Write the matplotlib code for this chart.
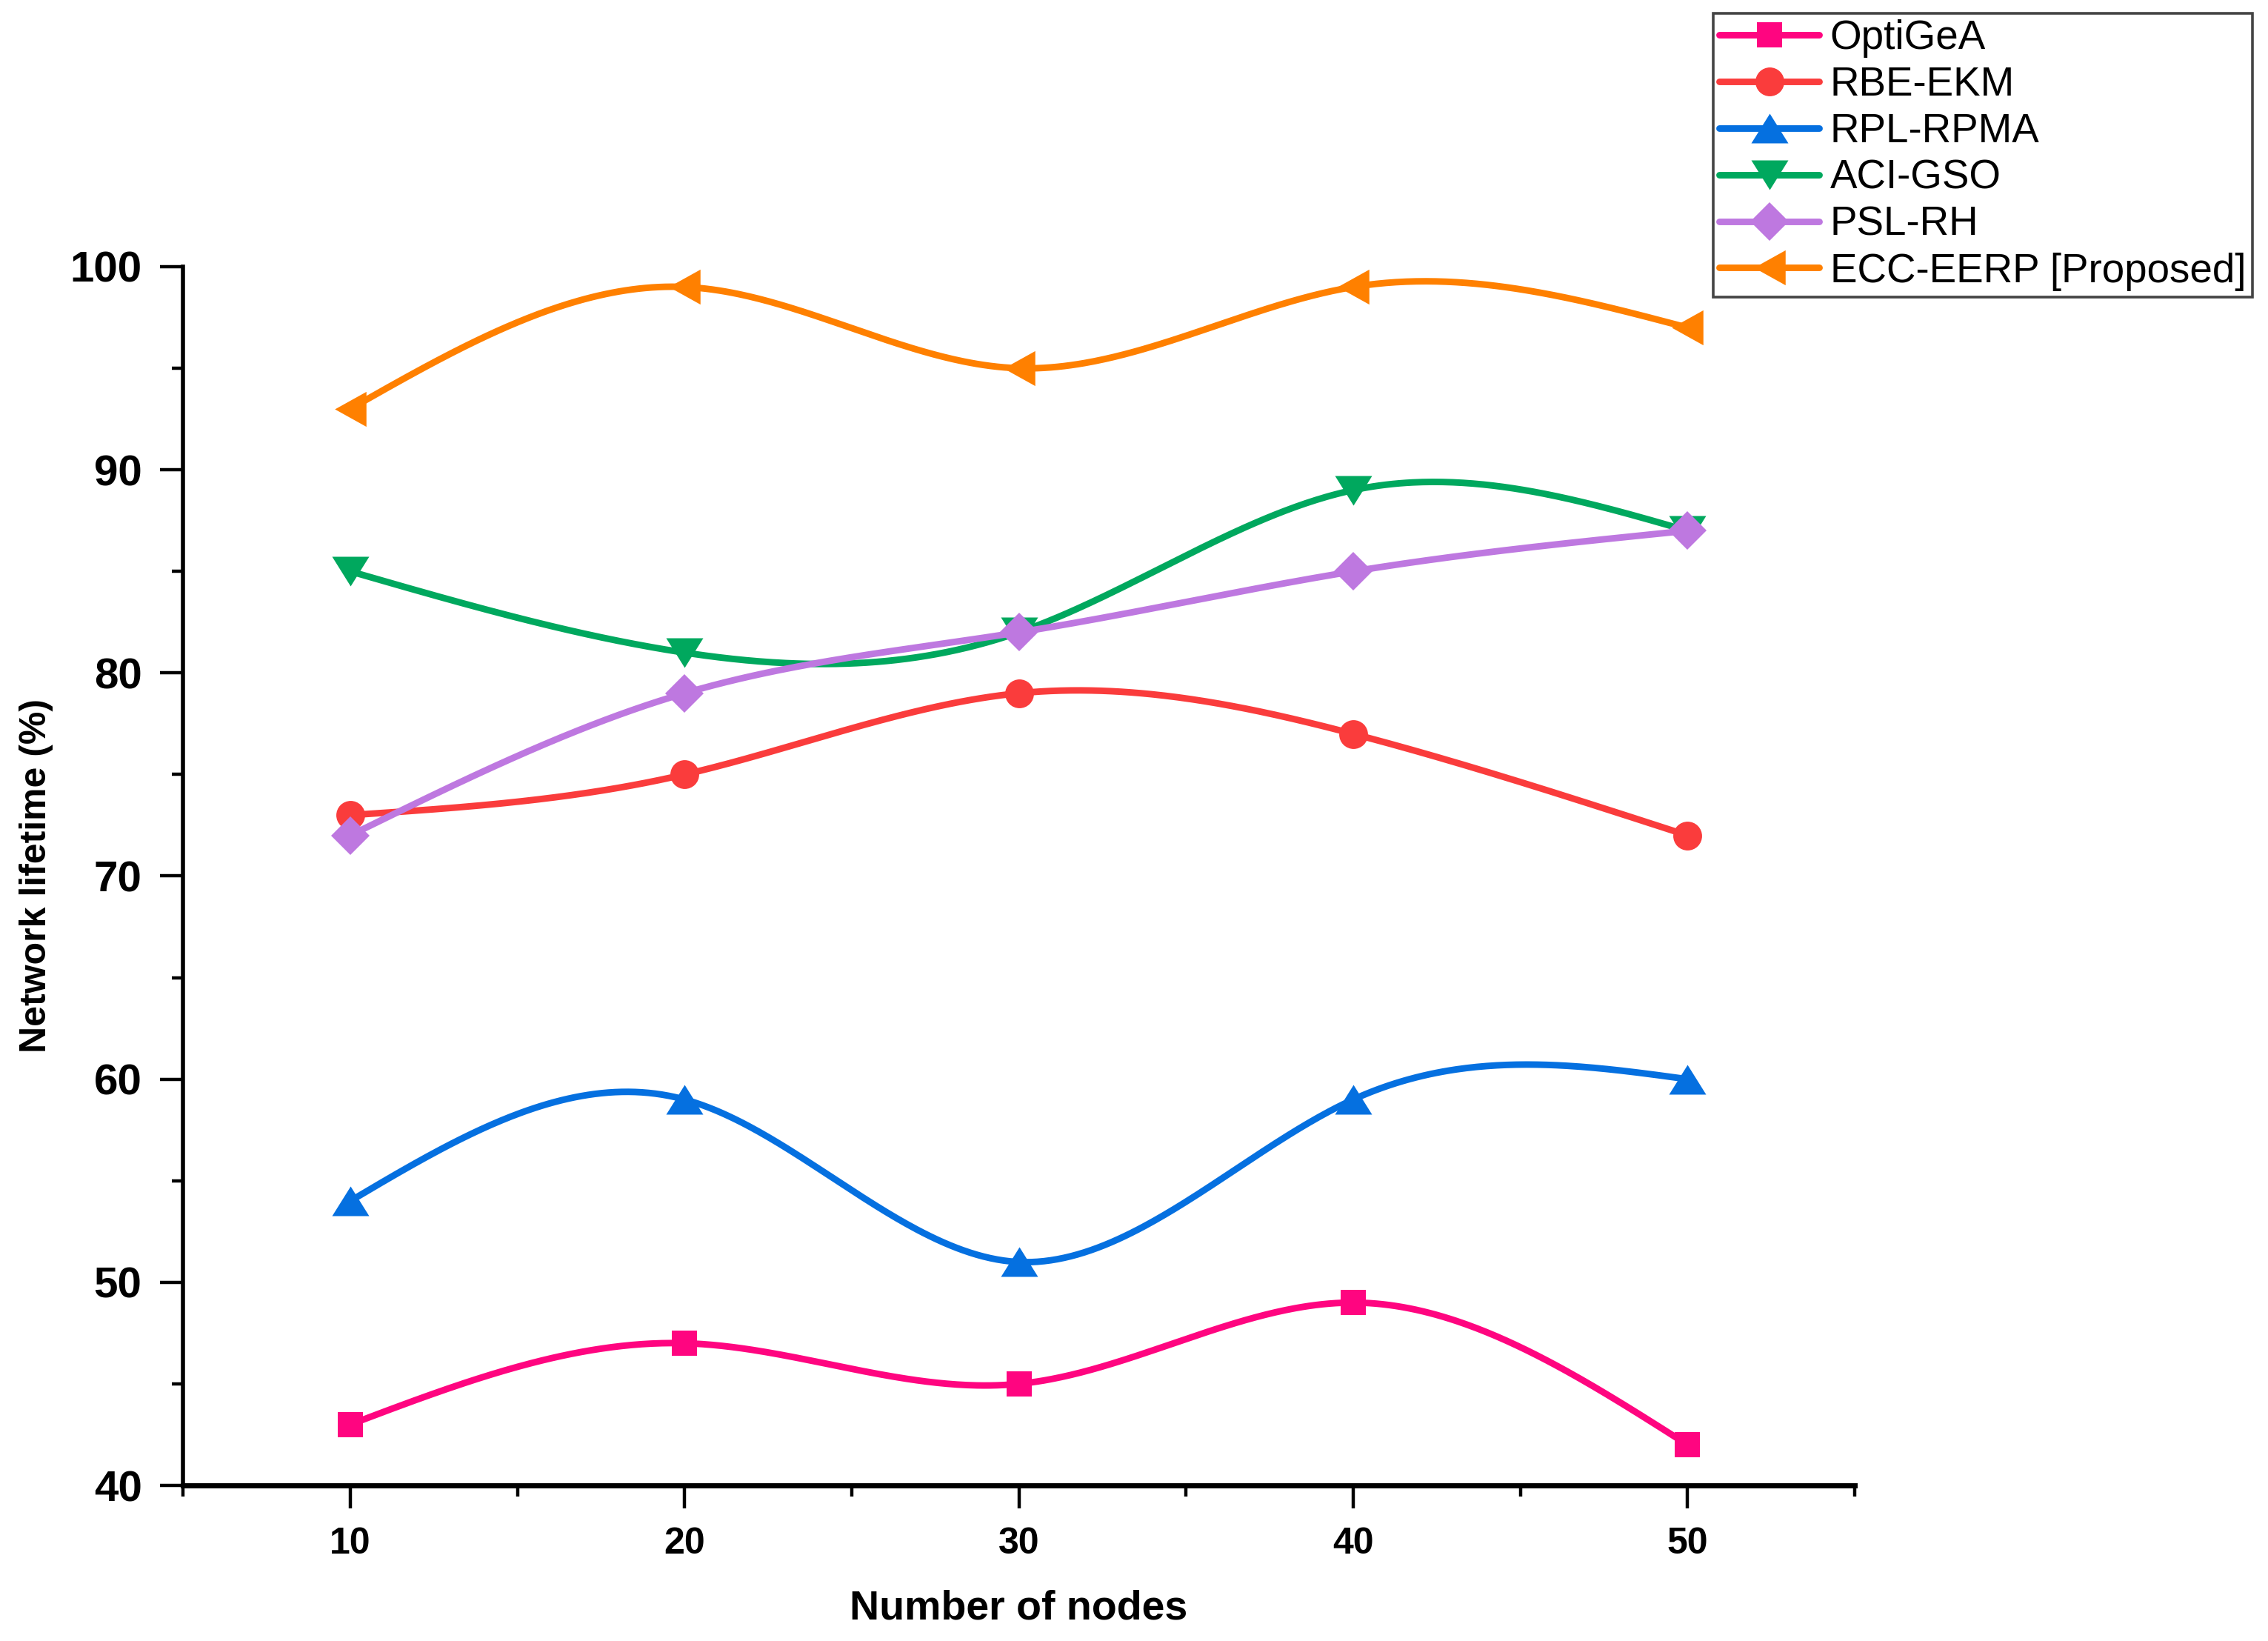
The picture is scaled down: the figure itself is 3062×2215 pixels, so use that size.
import numpy as np
import matplotlib
matplotlib.use("Agg")
import matplotlib.pyplot as plt

# ---------------- data ----------------
nodes = [10, 20, 30, 40, 50]
optigea = [43, 47, 45, 49, 42]
rbe_ekm = [73, 75, 79, 77, 72]
rpl_rpma = [54, 59, 51, 59, 60]
aci_gso = [85, 81, 82, 89, 87]
psl_rh = [72, 79, 82, 85, 87]
ecc_eerp = [93, 99, 95, 99, 97]

series_names = ["OptiGeA", "RBE-EKM", "RPL-RPMA", "ACI-GSO", "PSL-RH", "ECC-EERP [Proposed]"]
series_values = [optigea, rbe_ekm, rpl_rpma, aci_gso, psl_rh, ecc_eerp]
colors = ["#FF0580", "#FA3C3C", "#0570E0", "#00A85E", "#BE78E0", "#FF8000"]

up_tri = [(-1, -0.8), (1, -0.8), (0, 0.8)]
down_tri = [(-1, 0.8), (1, 0.8), (0, -0.8)]
left_tri = [(0.9, -1), (0.9, 1), (-0.9, 0)]
markers = ["s", "o", up_tri, down_tri, "D", left_tri]
msizes = [12.5, 14, 18, 18, 13, 17]


def natural_spline(x, y, n=400):
    """Smooth connector (natural cubic spline) through the data points, for drawing only."""
    x = np.asarray(x, float)
    y = np.asarray(y, float)
    k = len(x)
    h = np.diff(x)
    A = np.zeros((k, k))
    b = np.zeros(k)
    A[0, 0] = 1
    A[-1, -1] = 1
    for i in range(1, k - 1):
        A[i, i - 1] = h[i - 1]
        A[i, i] = 2 * (h[i - 1] + h[i])
        A[i, i + 1] = h[i]
        b[i] = 6 * ((y[i + 1] - y[i]) / h[i] - (y[i] - y[i - 1]) / h[i - 1])
    M = np.linalg.solve(A, b)
    xs = np.linspace(x[0], x[-1], n)
    idx = np.clip(np.searchsorted(x, xs) - 1, 0, k - 2)
    x0, x1 = x[idx], x[idx + 1]
    y0, y1 = y[idx], y[idx + 1]
    m0, m1 = M[idx], M[idx + 1]
    hh = x1 - x0
    t0 = x1 - xs
    t1 = xs - x0
    ys = (m0 * t0 ** 3 + m1 * t1 ** 3) / (6 * hh) + (y0 / hh - m0 * hh / 6) * t0 + (y1 / hh - m1 * hh / 6) * t1
    return xs, ys


plt.rcParams["font.family"] = ["Liberation Sans", "DejaVu Sans"]

fig = plt.figure(figsize=(15.31, 11.075), dpi=200)
ax = fig.add_axes([0.0807, 0.0948, 0.7371, 0.7427])

handles = []
for name, vals, c, m, ms in zip(series_names, series_values, colors, markers, msizes):
    xs, ys = natural_spline(nodes, vals)
    ax.plot(xs, ys, color=c, lw=3.2, solid_capstyle="round", zorder=2)
    ax.plot(nodes, vals, linestyle="none", marker=m, markersize=ms, color=c,
            markeredgewidth=0, zorder=3)
    h, = ax.plot([], [], color=c, lw=3.2, marker=m, markersize=ms,
                 markeredgewidth=0, solid_capstyle="round", label=name)
    handles.append(h)

ax.set_xlim(5, 55)
ax.set_ylim(40, 100)
ax.set_xticks(nodes)
ax.set_xticks([5, 15, 25, 35, 45, 55], minor=True)
ax.set_yticks([40, 50, 60, 70, 80, 90, 100])
ax.set_yticks([45, 55, 65, 75, 85, 95], minor=True)

for s in ["top", "right"]:
    ax.spines[s].set_visible(False)
ax.spines["left"].set_linewidth(2.0)
ax.spines["bottom"].set_linewidth(2.5)

ax.tick_params(axis="both", which="major", direction="out", length=11, width=1.6, pad=9)
ax.tick_params(axis="both", which="minor", direction="out", length=5.5, width=1.6)
for lab in ax.get_xticklabels():
    lab.set_fontsize(18)
    lab.set_fontweight("bold")
for lab in ax.get_yticklabels():
    lab.set_fontsize(21)
    lab.set_fontweight("bold")

ax.set_xlabel("Number of nodes", fontsize=20, fontweight="bold", labelpad=14)
ax.set_ylabel("Network lifetime (%)", fontsize=18, fontweight="bold", labelpad=8)

leg = fig.legend(handles=handles, loc="upper right", bbox_to_anchor=(0.993, 0.992),
                 bbox_transform=fig.transFigure, fontsize=19.7, frameon=True,
                 fancybox=False, edgecolor="#444444", framealpha=1,
                 handlelength=2.45, handletextpad=0.28, labelspacing=0.2,
                 borderpad=0.15, borderaxespad=0)
leg.get_frame().set_linewidth(1.3)

fig.savefig("out.png", dpi=200, facecolor="white")
